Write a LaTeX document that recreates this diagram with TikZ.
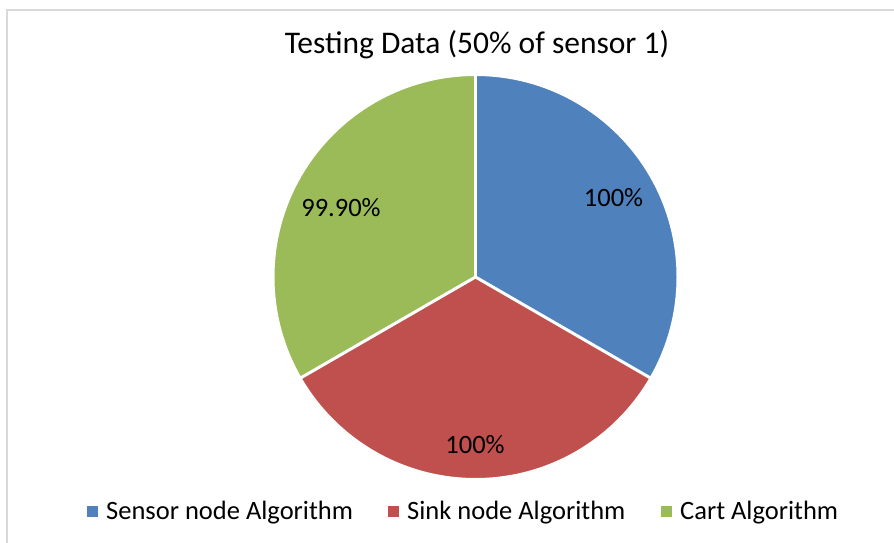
\documentclass[tikz,border=0pt]{standalone}
\usepackage{fontspec}
\setmainfont{Carlito}
\definecolor{sensorblue}{HTML}{4F81BD}
\definecolor{sinkred}{HTML}{C0504D}
\definecolor{cartgreen}{HTML}{9BBB59}
\definecolor{frame}{HTML}{D9D9D9}
\begin{document}
\begin{tikzpicture}[x=1pt,y=1pt,
  wedge/.style={draw=white,line width=3pt,line join=round},
  datalabel/.style={anchor=base,inner sep=0pt,font=\fontsize{26.5}{30}\selectfont},
  legendtext/.style={anchor=base west,inner sep=0pt,font=\fontsize{26.5}{30}\selectfont},
  legendkey/.style={minimum size=11pt,inner sep=0pt}]
  \useasboundingbox (0,0) rectangle (894,543);
  % chart frame
  \draw[frame,line width=1.5pt] (7,0) -- (7,533) -- (894,533);
  % title
  \node[anchor=base,inner sep=0pt,font=\fontsize{31.5}{36}\selectfont] (title) at (477,489) {Testing Data (50\% of sensor 1)};
  % pie
  \coordinate (c) at (475.5,266);
  \def\R{202}
  \fill[sensorblue] (c) -- ++(90:\R) arc[start angle=90,end angle=-30,radius=\R] -- cycle;
  \fill[sinkred] (c) -- ++(-30:\R) arc[start angle=-30,end angle=-150,radius=\R] -- cycle;
  \fill[cartgreen] (c) -- ++(210:\R) arc[start angle=210,end angle=90,radius=\R] -- cycle;
  \draw[wedge] (c) -- ++(90:\R+2);
  \draw[wedge] (c) -- ++(-30:\R+2);
  \draw[wedge] (c) -- ++(210:\R+2);
  \draw[draw=white,line width=2pt] (c) circle[radius=\R];
  % data labels
  \node[datalabel] (lblsensor) at (613.5,336) {100\%};
  \node[datalabel] (lblcart) at (341,326) {99.90\%};
  \node[datalabel] (lblsink) at (475,89) {100\%};
  % legend
  \node[legendkey,fill=sensorblue] (keysensor) at (92,31.5) {};
  \node[legendtext] (txtsensor) at (106,23) {Sensor node Algorithm};
  \node[legendkey,fill=sinkred] (keysink) at (393.5,31.5) {};
  \node[legendtext] (txtsink) at (407,23) {Sink node Algorithm};
  \node[legendkey,fill=cartgreen] (keycart) at (666,31.5) {};
  \node[legendtext] (txtcart) at (680,23) {Cart Algorithm};
\end{tikzpicture}
\end{document}
